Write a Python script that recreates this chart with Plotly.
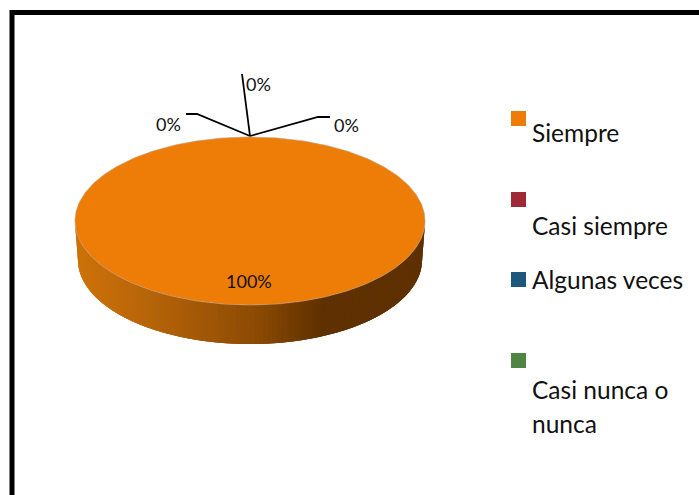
import numpy as np
import plotly.graph_objects as go

categories = ["Siempre", "Casi siempre", "Algunas veces", "Casi nunca o nunca"]
values = [100, 0, 0, 0]
colors = ["#EE7D08", "#9F2936", "#1B587C", "#4E8542"]

# legend text is wrapped by hand like in the original
legend_lines = [["Siempre"], ["Casi siempre"], ["Algunas veces"], ["Casi nunca o", "nunca"]]

# pie geometry in page pixels
CX, CY, RX, RY = 250, 221, 175, 84
DEPTH, RX_BOTTOM = 39, 172

# shade of the side wall from left to right
shade_x = [75, 130, 200, 250, 300, 316, 425]
shade_r = [206, 186, 160, 138, 104, 95, 95]
shade_g = [114, 103, 86, 74, 54, 48, 48]
shade_b = [10, 9, 6, 3, 1, 0, 0]

FONT = "Lato"
TEXT = "#111111"

fig = go.Figure()

# side wall, drawn as thin strips so it can carry the gradient
# every strip reaches back under its neighbour, otherwise seams show
angles = np.linspace(0, np.pi, 121)
step = angles[1] - angles[0]
for a0, a1 in zip(angles[:-1], angles[1:]):
    t = np.linspace(max(a0 - 2 * step, 0), a1, 5)
    xs = np.r_[CX + RX * np.cos(t), CX + RX_BOTTOM * np.cos(t[::-1])]
    ys = np.r_[CY + RY * np.sin(t), CY + DEPTH + RY * np.sin(t[::-1])]
    xm = CX + RX * np.cos((a0 + a1) / 2)
    col = "rgb(%d,%d,%d)" % (
        np.interp(xm, shade_x, shade_r),
        np.interp(xm, shade_x, shade_g),
        np.interp(xm, shade_x, shade_b),
    )
    fig.add_trace(go.Scatter(x=xs, y=ys, mode="none", fill="toself", fillcolor=col,
                             hoverinfo="skip", showlegend=False))

# top face, one slice per category, starting at 12 o'clock
total = sum(values)
start = -np.pi / 2
for name, val, col in zip(categories, values, colors):
    sweep = 2 * np.pi * val / total
    if sweep > 0:
        t = np.linspace(start, start + sweep, 361)
        fig.add_trace(go.Scatter(x=CX + RX * np.cos(t), y=CY + RY * np.sin(t), mode="lines",
                                 fill="toself", fillcolor=col, line=dict(color="#B8A088", width=0.6),
                                 name=name, hoverinfo="name", showlegend=False))
    start += sweep

# leader lines of the 0% labels
leaders = [([250, 197, 186], [136, 114, 114]),
           ([250, 242], [136, 74]),
           ([250, 318, 330], [136, 117, 117])]
for lx, ly in leaders:
    fig.add_trace(go.Scatter(x=lx, y=ly, mode="lines", line=dict(color="black", width=1.8),
                             hoverinfo="skip", showlegend=False))

# legend swatches
swatch_y = [118.5, 199.5, 279.5, 360.5]
fig.add_trace(go.Scatter(x=[518.5] * 4, y=swatch_y, mode="markers",
                         marker=dict(symbol="square", size=15, color=colors, line=dict(width=0)),
                         text=categories, hoverinfo="text", showlegend=False))

# percentage labels, zero slices first
pct = ["%d%%" % round(100 * v / total) for v in values]
label_pos = [(249, 281, 0), (168, 124, 1), (258, 84, 2), (346, 125, 3)]
for x, y, i in label_pos:
    fig.add_annotation(x=x, y=y, text=pct[i], showarrow=False, font=dict(family=FONT, size=18, color=TEXT))

legend_y = [[132], [225], [279], [389, 423]]
for lines, ys in zip(legend_lines, legend_y):
    for line, y in zip(lines, ys):
        fig.add_annotation(x=530, y=y, text=line, xanchor="left", showarrow=False,
                           font=dict(family=FONT, size=24.5, color=TEXT))

# heavy frame, runs off the right and bottom of the picture
fig.add_shape(type="rect", x0=12, y0=12.5, x1=720, y1=520, line=dict(color="black", width=5), layer="above")

fig.update_layout(
    width=699, height=495, margin=dict(l=0, r=0, t=0, b=0),
    paper_bgcolor="white", plot_bgcolor="white", showlegend=False,
    xaxis=dict(range=[0, 699], visible=False, fixedrange=True),
    yaxis=dict(range=[495, 0], visible=False, fixedrange=True),
)

fig.write_html("out.html", config=dict(displayModeBar=False),
               post_script="document.body.style.margin='0';document.body.style.overflow='hidden';")
